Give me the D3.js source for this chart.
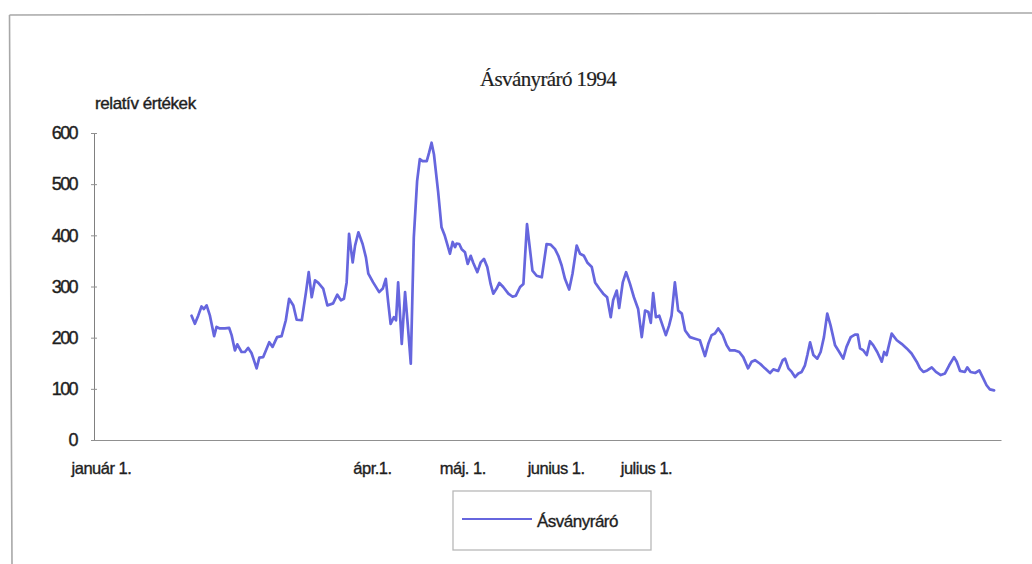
<!DOCTYPE html>
<html>
<head>
<meta charset="utf-8">
<script src="https://cdn.jsdelivr.net/npm/d3@7"></script>
<style>
  body { margin: 0; background: #fff; }
  svg { display: block; }
</style>
</head>
<body>
<svg id="chart" width="1032" height="564"></svg>
<script>
// Day of year (0 = január 1.) of each reading
const dayOfYear = [
  30.1, 31.2, 32.3, 33.4, 34.2, 35.1, 36.2, 37.6, 38.4, 39.5,
  41.2, 42.6, 43.4, 44.5, 45.3, 46.7, 47.8, 48.9, 50.0, 50.8,
  51.7, 52.6, 53.9, 55.9, 57.0, 58.5, 60.0, 61.4, 62.5, 63.9,
  65.0, 66.7, 68.1, 69.0, 70.0, 71.1, 72.2, 73.8, 75.2, 77.1,
  78.5, 79.7, 80.7, 81.6, 82.4, 83.6, 84.4, 85.5, 86.9, 88.0,
  88.8, 90.4, 92.4, 93.6, 94.6, 95.4, 96.2, 97.3, 98.0, 98.7,
  99.9, 101.0, 101.9, 102.9, 103.9, 105.0, 105.9, 106.8, 108.2, 109.0,
  109.8, 110.6, 112.0, 113.1, 114.2, 115.0, 115.9, 116.8, 117.6, 118.1,
  119.0, 119.8, 120.9, 121.8, 122.8, 123.6, 125.0, 126.1, 127.2, 128.3,
  129.4, 130.3, 131.4, 132.3, 133.6, 135.3, 136.7, 137.8, 139.2, 140.3,
  141.5, 143.3, 144.7, 146.4, 148.0, 149.3, 150.8, 151.9, 153.0, 154.1,
  155.5, 156.6, 158.0, 159.1, 160.4, 161.5, 163.0, 164.1, 165.5, 166.8,
  168.1, 169.3, 170.1, 171.3, 172.1, 173.3, 174.4, 175.7, 177.0, 178.4,
  179.6, 180.7, 181.8, 182.6, 183.4, 184.3, 185.4, 186.5, 187.6, 188.7,
  189.5, 190.6, 191.7, 192.9, 194.0, 195.6, 197.3, 198.9, 200.6, 201.7,
  202.8, 203.9, 205.0, 206.5, 207.8, 208.9, 210.6, 212.0, 213.3, 214.9,
  216.1, 217.2, 218.9, 220.5, 222.2, 223.3, 224.9, 226.4, 227.2, 228.3,
  229.4, 230.5, 231.6, 232.7, 233.8, 234.6, 235.5, 236.6, 237.9, 239.0,
  240.1, 241.2, 242.3, 243.8, 245.2, 246.5, 247.6, 249.0, 250.4, 251.3,
  252.1, 253.2, 254.3, 255.4, 256.5, 257.8, 259.3, 260.1, 260.9, 262.6,
  264.3, 265.9, 267.6, 269.2, 270.9, 272.0, 273.1, 274.4, 275.9, 277.3,
  278.9, 280.3, 281.7, 283.3, 284.2, 285.3, 286.9, 287.7, 288.8, 290.3,
  291.7, 292.8, 294.1, 295.2, 296.6
];

// Relative values (Ásványráró)
const relValue = [
  243, 227, 243, 261, 256, 263, 243, 203, 221, 218,
  218, 219, 205, 175, 187, 172, 172, 180, 170, 156,
  140, 161, 162, 191, 182, 201, 203, 234, 276, 263,
  235, 234, 289, 328, 279, 312, 307, 296, 263, 267,
  284, 273, 276, 308, 403, 347, 380, 406, 383, 357,
  325, 308, 289, 296, 315, 269, 227, 240, 234, 308,
  188, 289, 225, 149, 396, 506, 549, 545, 545, 562,
  581, 558, 484, 416, 399, 383, 364, 387, 377, 384,
  383, 373, 367, 344, 360, 347, 328, 347, 354, 338,
  305, 286, 296, 307, 299, 286, 280, 282, 299, 305,
  422, 331, 321, 318, 383, 382, 373, 360, 341, 315,
  294, 325, 380, 364, 360, 347, 338, 308, 296, 286,
  279, 240, 273, 292, 258, 308, 328, 305, 279, 256,
  201, 253, 250, 229, 287, 240, 243, 224, 205, 224,
  243, 308, 253, 247, 214, 201, 198, 195, 164, 188,
  205, 208, 218, 205, 185, 175, 175, 172, 162, 140,
  153, 156, 149, 140, 131, 138, 135, 156, 159, 140,
  133, 123, 130, 133, 146, 166, 191, 166, 159, 172,
  201, 247, 224, 185, 172, 159, 182, 201, 206, 206,
  179, 175, 166, 193, 185, 172, 153, 172, 166, 208,
  195, 188, 179, 169, 153, 140, 133, 136, 142, 133,
  127, 130, 146, 162, 153, 135, 133, 142, 133, 131,
  136, 123, 107, 99, 97
];

const yTicks = [0, 100, 200, 300, 400, 500, 600];
const xTickDays = [0, 90, 120, 151, 181];
const xTickLabels = ["január 1.", "ápr.1.", "máj. 1.", "junius 1.", "julius 1."];
const chartTitle = "Ásványráró 1994";
const yAxisTitle = "relatív értékek";
const seriesName = "Ásványráró";

const points = dayOfYear.map((d, i) => ({ day: d, v: relValue[i] }));

const svg = d3.select("#chart");
const sans = "'Liberation Sans', Arial, sans-serif";
const serif = "'Liberation Serif', 'Times New Roman', serif";
const lineColor = "#6666de";
const inkColor = "#1e1e1e";

// slightly heavier glyphs for the printed look of the labels
function ink(sel, w) {
  sel.attr("fill", inkColor)
     .attr("stroke", inkColor)
     .attr("stroke-width", w)
     .attr("paint-order", "stroke");
}

// outer frame of the chart sheet
svg.append("path")
  .attr("d", "M9.5,15 L1032,13 M9.5,15 L12,564")
  .attr("fill", "none")
  .attr("stroke", "#a8a8a8")
  .attr("stroke-width", 1.6);

const x = d3.scaleLinear().domain([-2.3, 298.9]).range([94, 1001]);
const y = d3.scaleLinear().domain([0, 600]).range([440, 133]);

// title
svg.append("text")
  .attr("x", 548).attr("y", 86)
  .attr("text-anchor", "middle")
  .attr("font-family", serif)
  .attr("font-size", 21)
  .attr("letter-spacing", -0.6)
  .call(ink, 0.2)
  .text(chartTitle);

// y axis title
svg.append("text")
  .attr("x", 95).attr("y", 109)
  .attr("font-family", sans)
  .attr("font-size", 17)
  .attr("letter-spacing", -0.4)
  .call(ink, 0.4)
  .text(yAxisTitle);

// y axis
const yAxis = svg.append("g")
  .attr("transform", "translate(94,0)")
  .call(d3.axisLeft(y).tickValues(yTicks).tickSize(3).tickSizeOuter(0).tickPadding(14));
yAxis.select(".domain").attr("stroke", "#808080");
yAxis.selectAll(".tick line").attr("x1", 3).attr("stroke", "#909090");
yAxis.selectAll(".tick text")
  .attr("font-family", sans)
  .attr("font-size", 18)
  .attr("letter-spacing", -1.6)
  .call(ink, 0.4);

// x axis
const xAxis = svg.append("g")
  .attr("transform", "translate(0,440)")
  .call(d3.axisBottom(x).tickValues(xTickDays)
    .tickFormat((d, i) => xTickLabels[i])
    .tickSize(0).tickPadding(22));
xAxis.select(".domain").attr("stroke", "#909090");
xAxis.selectAll(".tick text")
  .attr("font-family", sans)
  .attr("font-size", 16.5)
  .attr("letter-spacing", -0.5)
  .call(ink, 0.35);

// data line
svg.append("path")
  .datum(points)
  .attr("fill", "none")
  .attr("stroke", lineColor)
  .attr("stroke-width", 2.7)
  .attr("stroke-linejoin", "round")
  .attr("stroke-linecap", "round")
  .attr("d", d3.line().x(d => x(d.day)).y(d => y(d.v)));

// legend
const legend = svg.append("g").attr("transform", "translate(453,491)");
legend.append("rect")
  .attr("width", 198).attr("height", 59)
  .attr("fill", "#fff")
  .attr("stroke", "#b8b8b8")
  .attr("stroke-width", 1.3);
legend.append("line")
  .attr("x1", 9).attr("x2", 79).attr("y1", 28).attr("y2", 28)
  .attr("stroke", lineColor).attr("stroke-width", 2);
legend.append("text")
  .attr("x", 84).attr("y", 36)
  .attr("font-family", sans)
  .attr("font-size", 17)
  .attr("letter-spacing", -0.5)
  .call(ink, 0.35)
  .text(seriesName);
</script>
</body>
</html>
